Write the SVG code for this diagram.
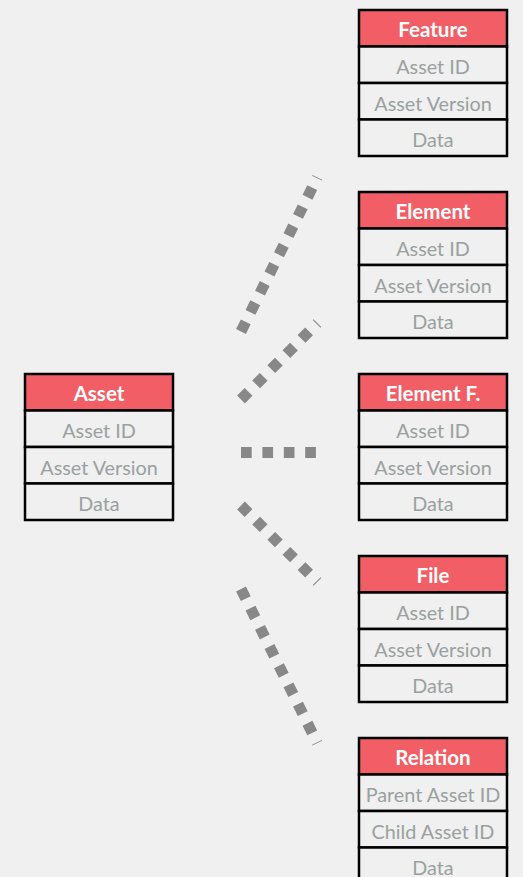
<svg xmlns="http://www.w3.org/2000/svg" width="523" height="877" viewBox="0 0 523 877">
<style>
.bg{fill:#eff0ef}
.hd{fill:#f25e65;stroke:#000;stroke-width:2.5}
.rw{fill:#eff0ef;stroke:#000;stroke-width:2.5}
.ht{font-family:Lato,"Noto Sans",sans-serif;font-weight:bold;font-size:20.5px;fill:#fff;text-anchor:middle;dominant-baseline:central}
.rt{font-family:Lato,"Noto Sans",sans-serif;font-size:19.8px;fill:#9aa0a0;text-anchor:middle;dominant-baseline:central}
.cn{stroke:#888;stroke-width:11;stroke-dasharray:10.7 10.7;fill:none}
</style>
<rect class="bg" x="0" y="0" width="523" height="877"/>
<defs>
<g id="tbl">
<rect class="hd" x="0" y="0" width="148" height="36.5"/>
<rect class="rw" x="0" y="36.5" width="148" height="36.5"/>
<rect class="rw" x="0" y="73" width="148" height="36.5"/>
<rect class="rw" x="0" y="109.5" width="148" height="36.5"/>
</g>
</defs>
<g id="connectors">
<line class="cn" x1="241" y1="331.5" x2="317.3" y2="177.4"/>
<line class="cn" x1="241" y1="399.5" x2="317.4" y2="323.1"/>
<line class="cn" x1="241" y1="452.5" x2="317" y2="452.5"/>
<line class="cn" x1="241" y1="505.5" x2="317.4" y2="581.9"/>
<line class="cn" x1="241" y1="589" x2="317.3" y2="743.1"/>
</g>
<g id="asset" transform="translate(25,374)">
<use href="#tbl"/>
<text class="ht" x="74" y="19">Asset</text>
<text class="rt" x="74" y="56">Asset ID</text>
<text class="rt" x="74" y="92.5">Asset Version</text>
<text class="rt" x="74" y="129">Data</text>
</g>
<g id="feature" transform="translate(359,10)">
<use href="#tbl"/>
<text class="ht" x="74" y="19">Feature</text>
<text class="rt" x="74" y="56">Asset ID</text>
<text class="rt" x="74" y="92.5">Asset Version</text>
<text class="rt" x="74" y="129">Data</text>
</g>
<g id="element" transform="translate(359,192)">
<use href="#tbl"/>
<text class="ht" x="74" y="19">Element</text>
<text class="rt" x="74" y="56">Asset ID</text>
<text class="rt" x="74" y="92.5">Asset Version</text>
<text class="rt" x="74" y="129">Data</text>
</g>
<g id="elementf" transform="translate(359,374)">
<use href="#tbl"/>
<text class="ht" x="74" y="19">Element F.</text>
<text class="rt" x="74" y="56">Asset ID</text>
<text class="rt" x="74" y="92.5">Asset Version</text>
<text class="rt" x="74" y="129">Data</text>
</g>
<g id="file" transform="translate(359,556)">
<use href="#tbl"/>
<text class="ht" x="74" y="19">File</text>
<text class="rt" x="74" y="56">Asset ID</text>
<text class="rt" x="74" y="92.5">Asset Version</text>
<text class="rt" x="74" y="129">Data</text>
</g>
<g id="relation" transform="translate(359,738)">
<use href="#tbl"/>
<text class="ht" x="74" y="19">Relation</text>
<text class="rt" x="74" y="56">Parent Asset ID</text>
<text class="rt" x="74" y="92.5">Child Asset ID</text>
<text class="rt" x="74" y="129">Data</text>
</g>
</svg>
